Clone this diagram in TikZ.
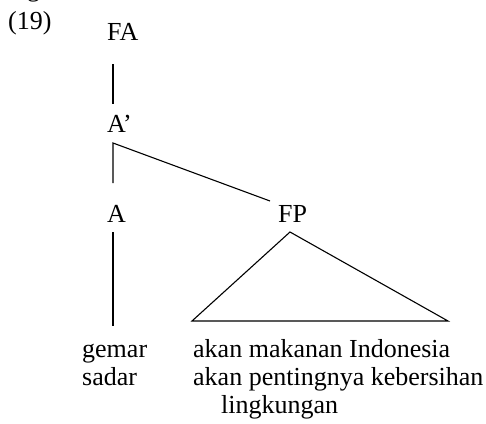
\documentclass[tikz,border=0pt]{standalone}
\usepackage{fontspec}
\setmainfont{Liberation Serif}
\usetikzlibrary{calc}
\begin{document}
\begin{tikzpicture}[x=1pt,y=-1pt,
  lbl/.style={inner sep=0pt,anchor=base west,font=\fontsize{26}{28}\selectfont},
  edge/.style={line width=1.1pt}]
\useasboundingbox (0,0) rectangle (486,423);
\node[lbl] (frag) at (27,-3) {g};
\node[lbl] (num) at (8,29) {(19)};
\node[lbl] (FA) at (107,40) {FA};
\node[lbl] (Ap) at (107,132) {A’};
\node[lbl] (A) at (107,222) {A};
\node[lbl] (FP) at (278,222) {FP};
\node[lbl] (w1) at (82,357) {gemar};
\node[lbl] (w2) at (82,385) {sadar};
\node[lbl] (p1) at (193,357) {akan makanan Indonesia};
\node[lbl] (p2) at (193,385) {akan pentingnya kebersihan};
\node[lbl] (p3) at (221,413) {lingkungan};
\draw[edge] ($(FA.base west)+(6,24)$) -- ($(Ap.base west)+(6,-28)$);
\draw[edge] ($(A.base west)+(6,-39)$) -- ($(Ap.base west)+(6,11)$) -- ($(FP.base west)+(-8,-21)$);
\draw[edge] ($(A.base west)+(6,10)$) -- ($(w1.base west)+(31,-31)$);
\draw[edge] ($(FP.base west)+(12,10)$) -- ($(p1.base west)+(-1,-36)$) -- ($(p1.base west)+(255,-36)$) -- cycle;
\end{tikzpicture}
\end{document}
